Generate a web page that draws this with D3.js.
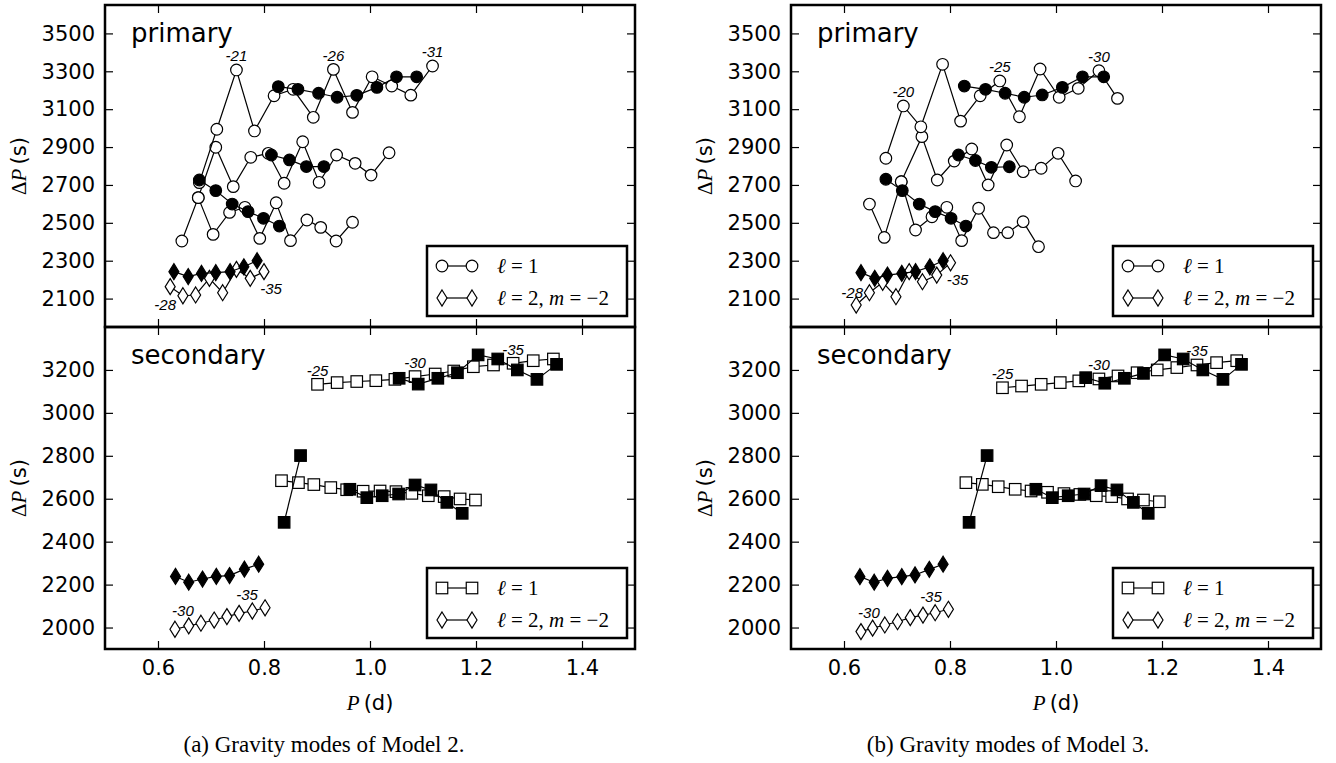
<!DOCTYPE html>
<html>
<head>
<meta charset="utf-8">
<script src="https://cdn.jsdelivr.net/npm/d3@7"></script>
<style>
  body { margin: 0; background: #fff; }
  svg { display: block; }
</style>
</head>
<body>
<svg id="fig" width="1336" height="763"></svg>
<script>
// ---- axis settings ----
const xDomain = [0.5, 1.5];
const xTicks = [0.6, 0.8, 1.0, 1.2, 1.4];
const yDomainPrimary = [1950, 3650];
const yTicksPrimary = [2100, 2300, 2500, 2700, 2900, 3100, 3300, 3500];
const yDomainSecondary = [1900, 3400];
const yTicksSecondary = [2000, 2200, 2400, 2600, 2800, 3000, 3200];

// ---- Model 2, primary: [P (d), dP (s)] ----
const m2PriL1a = [[0.678,2712],[0.711,2994],[0.748,3307],[0.782,2985],[0.819,3171],[0.855,3205],[0.893,3057],[0.931,3310],[0.967,3083],[1.004,3271],[1.041,3222],[1.077,3174],[1.118,3328]];
const m2PriL1b = [[0.676,2633],[0.709,2899],[0.742,2691],[0.775,2846],[0.808,2867],[0.838,2709],[0.873,2928],[0.904,2714],[0.937,2858],[0.972,2814],[1.002,2752],[1.036,2870]];
const m2PriL1c = [[0.645,2404],[0.676,2633],[0.704,2439],[0.735,2555],[0.764,2582],[0.792,2418],[0.823,2606],[0.850,2406],[0.881,2515],[0.907,2476],[0.936,2404],[0.967,2503]];
const m2PriL1fA = [[0.827,3219],[0.864,3205],[0.903,3184],[0.938,3163],[0.975,3173],[1.013,3215],[1.050,3271],[1.088,3271]];
const m2PriL1fB = [[0.814,2858],[0.848,2832],[0.880,2797],[0.913,2797]];
const m2PriL1fC = [[0.678,2726],[0.709,2670],[0.740,2599],[0.770,2559],[0.799,2524],[0.829,2483]];
const m2PriL2f = [[0.630,2242],[0.657,2216],[0.682,2233],[0.709,2237],[0.736,2242],[0.762,2268],[0.787,2300]];
const m2PriL2o = [[0.623,2163],[0.647,2115],[0.671,2119],[0.697,2207],[0.722,2131],[0.748,2254],[0.774,2207],[0.800,2242]];

// ---- Model 2, secondary ----
const m2SecL1oA = [[0.901,3133],[0.938,3141],[0.975,3146],[1.011,3150],[1.047,3156],[1.085,3169],[1.123,3181],[1.158,3195],[1.195,3215],[1.233,3223],[1.270,3231],[1.308,3243],[1.346,3251]];
const m2SecL1fA = [[1.055,3161],[1.091,3134],[1.128,3161],[1.165,3187],[1.204,3270],[1.241,3251],[1.278,3200],[1.315,3156],[1.352,3226]];
const m2SecL1oB = [[0.833,2684],[0.865,2675],[0.894,2666],[0.926,2652],[0.956,2642],[0.987,2635],[1.019,2636],[1.049,2633],[1.079,2625],[1.110,2614],[1.140,2610],[1.170,2599],[1.199,2594]];
const m2SecL1fB = [[0.838,2490],[0.869,2801]];
const m2SecL1fC = [[0.962,2644],[0.994,2605],[1.023,2614],[1.054,2622],[1.085,2664],[1.115,2641],[1.145,2583],[1.174,2532]];
const m2SecL2f = [[0.633,2238],[0.658,2211],[0.684,2226],[0.710,2238],[0.735,2242],[0.763,2272],[0.790,2295]];
const m2SecL2o = [[0.632,1992],[0.658,2008],[0.681,2020],[0.706,2035],[0.730,2051],[0.753,2066],[0.778,2077],[0.802,2092]];

// ---- Model 3, primary ----
const m3PriL1a = [[0.679,2841],[0.712,3117],[0.745,3007],[0.786,3337],[0.820,3037],[0.857,3171],[0.894,3249],[0.931,3060],[0.970,3312],[1.006,3163],[1.042,3210],[1.081,3303],[1.116,3157]];
const m3PriL1b = [[0.708,2717],[0.747,2955],[0.776,2726],[0.808,2826],[0.841,2890],[0.872,2700],[0.907,2911],[0.938,2770],[0.972,2788],[1.004,2867],[1.037,2721]];
const m3PriL1c = [[0.648,2599],[0.676,2423],[0.708,2717],[0.735,2462],[0.766,2532],[0.794,2582],[0.822,2406],[0.854,2577],[0.882,2448],[0.909,2448],[0.938,2506],[0.967,2374]];
const m3PriL1fA = [[0.827,3222],[0.867,3205],[0.904,3184],[0.940,3163],[0.974,3175],[1.012,3215],[1.050,3271],[1.090,3271]];
const m3PriL1fB = [[0.816,2858],[0.848,2829],[0.878,2793],[0.912,2796]];
const m3PriL1fC = [[0.679,2730],[0.710,2670],[0.742,2599],[0.772,2559],[0.802,2524],[0.830,2483]];
const m3PriL2f = [[0.632,2237],[0.658,2207],[0.682,2224],[0.709,2233],[0.735,2242],[0.762,2268],[0.787,2300]];
const m3PriL2o = [[0.623,2066],[0.648,2131],[0.673,2186],[0.698,2110],[0.723,2242],[0.748,2189],[0.775,2224],[0.801,2289]];

// ---- Model 3, secondary ----
const m3SecL1oA = [[0.899,3117],[0.935,3125],[0.972,3133],[1.008,3141],[1.043,3149],[1.081,3158],[1.117,3172],[1.153,3187],[1.191,3200],[1.228,3211],[1.266,3223],[1.303,3234],[1.341,3243]];
const m3SecL1fA = [[1.056,3164],[1.092,3138],[1.129,3161],[1.165,3184],[1.205,3270],[1.240,3251],[1.277,3200],[1.315,3156],[1.350,3226]];
const m3SecL1oB = [[0.830,2675],[0.861,2667],[0.891,2656],[0.923,2644],[0.953,2636],[0.984,2630],[1.015,2624],[1.045,2620],[1.076,2614],[1.105,2610],[1.135,2599],[1.165,2594],[1.195,2586]];
const m3SecL1fB = [[0.836,2490],[0.870,2801]];
const m3SecL1fC = [[0.962,2644],[0.993,2605],[1.023,2614],[1.053,2622],[1.085,2661],[1.115,2641],[1.146,2583],[1.174,2532]];
const m3SecL2f = [[0.630,2237],[0.657,2211],[0.682,2229],[0.709,2237],[0.734,2245],[0.761,2271],[0.787,2295]];
const m3SecL2o = [[0.632,1981],[0.654,1997],[0.677,2012],[0.701,2027],[0.725,2046],[0.749,2058],[0.772,2069],[0.797,2085]];

// ---- text ----
const captions = ["(a) Gravity modes of Model 2.", "(b) Gravity modes of Model 3."];
const panelTitles = ["primary", "secondary"];
// radial-order labels: [text, series, point index, placement]
const m2PriNotes = [["-21", m2PriL1a, 2, "above"], ["-26", m2PriL1a, 7, "above"], ["-31", m2PriL1a, 12, "above"],
                    ["-28", m2PriL2o, 0, "lowLeft"], ["-35", m2PriL2o, 7, "lowRight"]];
const m2SecNotes = [["-25", m2SecL1oA, 0, "above"], ["-30", m2SecL1oA, 5, "above"], ["-35", m2SecL1oA, 10, "above"],
                    ["-30", m2SecL2o, 0, "upRight"], ["-35", m2SecL2o, 5, "upRight"]];
const m3PriNotes = [["-20", m3PriL1a, 1, "above"], ["-25", m3PriL1a, 6, "above"], ["-30", m3PriL1a, 11, "above"],
                    ["-28", m3PriL2o, 0, "upLeft"], ["-35", m3PriL2o, 7, "lowRight"]];
const m3SecNotes = [["-25", m3SecL1oA, 0, "above"], ["-30", m3SecL1oA, 5, "above"], ["-35", m3SecL1oA, 10, "above"],
                    ["-30", m3SecL2o, 0, "upRight"], ["-35", m3SecL2o, 5, "upRight"]];

// ---- layout & style ----
const figLeft = [105, 791];
const frameW = 530;
const rowTop = [5, 327];
const rowH = 322;
const captionX = [324, 1008];
const tickLen = 8;
const noteOffset = { above: [0, -14], lowLeft: [-5, 18], lowRight: [7, 17], upLeft: [-4, -13], upRight: [8, -19] };
const sty = { circleR: 5.8, square: 11.5, diaW: 10, diaH: 16, lineW: 1.2, markW: 1.2, frameW: 2.5 };

const panels = [
  { fig: 0, row: 0, yDomain: yDomainPrimary, yTicks: yTicksPrimary, shape: "circle", notes: m2PriNotes,
    series: [[m2PriL1c, false], [m2PriL1b, false], [m2PriL1a, false], [m2PriL1fC, true], [m2PriL1fB, true], [m2PriL1fA, true]],
    diamonds: [[m2PriL2o, false], [m2PriL2f, true]] },
  { fig: 0, row: 1, yDomain: yDomainSecondary, yTicks: yTicksSecondary, shape: "square", notes: m2SecNotes,
    series: [[m2SecL1oA, false], [m2SecL1oB, false], [m2SecL1fA, true], [m2SecL1fB, true], [m2SecL1fC, true]],
    diamonds: [[m2SecL2o, false], [m2SecL2f, true]] },
  { fig: 1, row: 0, yDomain: yDomainPrimary, yTicks: yTicksPrimary, shape: "circle", notes: m3PriNotes,
    series: [[m3PriL1c, false], [m3PriL1b, false], [m3PriL1a, false], [m3PriL1fC, true], [m3PriL1fB, true], [m3PriL1fA, true]],
    diamonds: [[m3PriL2o, false], [m3PriL2f, true]] },
  { fig: 1, row: 1, yDomain: yDomainSecondary, yTicks: yTicksSecondary, shape: "square", notes: m3SecNotes,
    series: [[m3SecL1oA, false], [m3SecL1oB, false], [m3SecL1fA, true], [m3SecL1fB, true], [m3SecL1fC, true]],
    diamonds: [[m3SecL2o, false], [m3SecL2f, true]] }
];

const svg = d3.select("#fig");
const SANS = "'DejaVu Sans', sans-serif";
const SERIF = "'Liberation Serif', 'DejaVu Serif', serif";

function drawMarker(g, shape, x, y, filled) {
  let m;
  if (shape === "circle") {
    m = g.append("circle").attr("cx", x).attr("cy", y).attr("r", sty.circleR);
  } else if (shape === "square") {
    m = g.append("rect").attr("x", x - sty.square / 2).attr("y", y - sty.square / 2)
      .attr("width", sty.square).attr("height", sty.square);
  } else {
    const w = sty.diaW / 2, h = sty.diaH / 2;
    m = g.append("path").attr("d", `M${x},${y - h}L${x + w},${y}L${x},${y + h}L${x - w},${y}Z`);
  }
  m.attr("fill", filled ? "#000" : "#fff").attr("stroke", "#000").attr("stroke-width", sty.markW);
}

function drawSeries(g, x, y, data, shape, filled) {
  const line = d3.line().x(d => x(d[0])).y(d => y(d[1]));
  g.append("path").datum(data).attr("d", line)
    .attr("fill", "none").attr("stroke", "#000").attr("stroke-width", sty.lineW);
  data.forEach(d => drawMarker(g, shape, x(d[0]), y(d[1]), filled));
}

panels.forEach(p => {
  const left = figLeft[p.fig], top = rowTop[p.row];
  const x = d3.scaleLinear().domain(xDomain).range([left, left + frameW]);
  const y = d3.scaleLinear().domain(p.yDomain).range([top + rowH, top]);
  const g = svg.append("g");

  p.diamonds.forEach(([d, f]) => drawSeries(g, x, y, d, "diamond", f));
  p.series.forEach(([d, f]) => drawSeries(g, x, y, d, p.shape, f));

  // radial order labels
  p.notes.forEach(([txt, s, i, place]) => {
    const o = noteOffset[place];
    g.append("text").attr("x", x(s[i][0]) + o[0]).attr("y", y(s[i][1]) + o[1])
      .attr("text-anchor", "middle").attr("dominant-baseline", "central")
      .attr("font-family", "'Liberation Sans', Arial, sans-serif").attr("font-style", "italic")
      .attr("font-size", 15).text(txt);
  });

  // axes with inward ticks on all four sides
  const ax = svg.append("g").attr("font-family", SANS);
  const yl = ax.append("g").attr("transform", `translate(${left},0)`)
    .call(d3.axisLeft(y).tickValues(p.yTicks).tickFormat(d3.format("d")).tickSizeInner(-tickLen).tickSizeOuter(0).tickPadding(10));
  const yr = ax.append("g").attr("transform", `translate(${left + frameW},0)`)
    .call(d3.axisRight(y).tickValues(p.yTicks).tickFormat("").tickSizeInner(-tickLen).tickSizeOuter(0));
  const xt = ax.append("g").attr("transform", `translate(0,${top})`)
    .call(d3.axisTop(x).tickValues(xTicks).tickFormat("").tickSizeInner(-tickLen).tickSizeOuter(0));
  const xb = ax.append("g").attr("transform", `translate(0,${top + rowH})`)
    .call(d3.axisBottom(x).tickValues(xTicks).tickFormat(p.row === 1 ? d3.format(".1f") : "")
      .tickSizeInner(-tickLen).tickSizeOuter(0).tickPadding(11));
  [yl, yr, xt, xb].forEach(a => {
    a.select(".domain").remove();
    a.selectAll(".tick line").attr("stroke", "#000").attr("stroke-width", 1.2);
    a.selectAll(".tick text").attr("fill", "#000").attr("font-size", 21).attr("font-family", SANS);
  });

  // frame
  svg.append("rect").attr("x", left).attr("y", top).attr("width", frameW).attr("height", rowH)
    .attr("fill", "none").attr("stroke", "#000").attr("stroke-width", sty.frameW);

  // panel title
  svg.append("text").attr("x", left + 26).attr("y", top + 37)
    .attr("font-family", SANS).attr("font-size", 26).text(panelTitles[p.row]);

  // y axis title
  const yt = svg.append("text")
    .attr("transform", `translate(${left - 86},${top + rowH / 2}) rotate(-90)`)
    .attr("text-anchor", "middle").attr("dominant-baseline", "central").attr("font-size", 21);
  yt.append("tspan").attr("font-family", SERIF).text("\u0394");
  yt.append("tspan").attr("font-family", SERIF).attr("font-style", "italic").text("P");
  yt.append("tspan").attr("font-family", SANS).text("\u2009(s)");

  // legend
  const lx = left + frameW - 208, ly = top + rowH - 81;
  const lg = svg.append("g");
  lg.append("rect").attr("x", lx).attr("y", ly).attr("width", 200).attr("height", 70)
    .attr("fill", "#fff").attr("stroke", "#000").attr("stroke-width", sty.frameW);
  [[p.shape, "l1"], ["diamond", "l2"]].forEach(([shape, key], k) => {
    const ry = ly + 20 + k * 32;
    lg.append("line").attr("x1", lx + 15).attr("x2", lx + 45).attr("y1", ry).attr("y2", ry)
      .attr("stroke", "#000").attr("stroke-width", sty.lineW);
    drawMarker(lg, shape, lx + 15, ry, false);
    drawMarker(lg, shape, lx + 45, ry, false);
    const t = lg.append("text").attr("x", lx + 70).attr("y", ry).attr("dominant-baseline", "central")
      .attr("font-family", SERIF).attr("font-size", 21);
    t.append("tspan").attr("font-style", "italic").text("\u2113");
    if (key === "l1") {
      t.append("tspan").text(" = 1");
    } else {
      t.append("tspan").text(" = 2, ");
      t.append("tspan").attr("font-style", "italic").text("m");
      t.append("tspan").text(" = \u22122");
    }
  });
});

// x axis titles and captions
[0, 1].forEach(f => {
  const cx = figLeft[f] + frameW / 2;
  const t = svg.append("text").attr("x", cx).attr("y", 703).attr("text-anchor", "middle")
    .attr("dominant-baseline", "central").attr("font-size", 21);
  t.append("tspan").attr("font-family", SERIF).attr("font-style", "italic").text("P");
  t.append("tspan").attr("font-family", SANS).text("\u2009(d)");
  svg.append("text").attr("x", captionX[f]).attr("y", 744).attr("text-anchor", "middle")
    .attr("dominant-baseline", "central").attr("font-family", SERIF).attr("font-size", 23)
    .text(captions[f]);
});
</script>
</body>
</html>
